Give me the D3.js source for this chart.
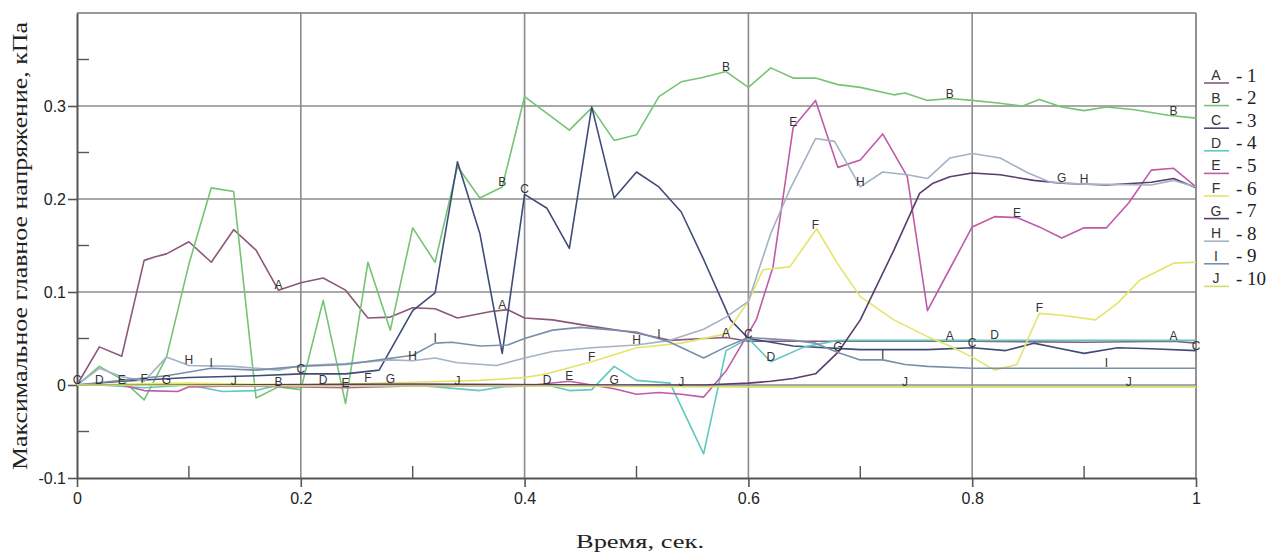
<!DOCTYPE html>
<html><head><meta charset="utf-8">
<script src="https://cdn.jsdelivr.net/npm/d3@7"></script>
<style>body{margin:0;background:#fff;} svg{display:block;}</style>
</head><body><svg id="c" width="1288" height="556"></svg>
<script>
// ---- data ----
const xTicks = [0, 0.2, 0.4, 0.6, 0.8, 1];
const xTickLabels = ["0", "0.2", "0.4", "0.6", "0.8", "1"];
const yTicks = [-0.1, 0, 0.1, 0.2, 0.3];
const yTickLabels = ["-0.1", "0", "0.1", "0.2", "0.3"];
const xMinor = [0.1, 0.3, 0.5, 0.7, 0.9];
const yMinor = [-0.05, 0.05, 0.15, 0.25, 0.35];
const seriesLetters = ["A","B","C","D","E","F","G","H","I","J"];
const seriesNumbers = ["1","2","3","4","5","6","7","8","9","10"];
const seriesColors = ["#8a5878","#74c474","#404c78","#60c8c0","#c05aa6","#e4e46a","#5a3c6c","#a4b2c6","#7a90aa","#d4dc6a"];
const xTitle = "Время, сек.";
const yTitle = "Максимальное главное напряжение, кПа";

const seriesA = [[0,0],[0.02,0.041],[0.04,0.031],[0.06,0.134],[0.07,0.138],[0.08,0.141],[0.10,0.154],[0.12,0.132],[0.14,0.167],[0.16,0.145],[0.18,0.102],[0.20,0.11],[0.22,0.115],[0.24,0.102],[0.26,0.072],[0.28,0.073],[0.30,0.083],[0.32,0.082],[0.34,0.072],[0.37,0.079],[0.385,0.081],[0.40,0.072],[0.425,0.07],[0.46,0.063],[0.50,0.056],[0.53,0.048],[0.56,0.05],[0.58,0.051],[0.60,0.047],[0.70,0.047],[0.80,0.047],[0.90,0.046],[0.98,0.047],[1.0,0.045]];
const seriesB = [[0,0],[0.02,0.02],[0.04,0.006],[0.06,-0.016],[0.08,0.03],[0.10,0.13],[0.12,0.212],[0.14,0.208],[0.16,-0.014],[0.18,-0.002],[0.20,-0.005],[0.22,0.091],[0.24,-0.02],[0.26,0.132],[0.28,0.059],[0.30,0.169],[0.32,0.132],[0.34,0.235],[0.36,0.201],[0.38,0.213],[0.40,0.31],[0.44,0.274],[0.46,0.298],[0.48,0.263],[0.50,0.269],[0.52,0.31],[0.54,0.326],[0.56,0.331],[0.58,0.337],[0.60,0.32],[0.62,0.341],[0.64,0.33],[0.66,0.33],[0.68,0.323],[0.70,0.32],[0.73,0.312],[0.74,0.314],[0.76,0.306],[0.78,0.308],[0.80,0.306],[0.825,0.303],[0.845,0.30],[0.86,0.307],[0.88,0.299],[0.90,0.295],[0.92,0.299],[0.945,0.296],[0.975,0.29],[1.0,0.287]];
const seriesC = [[0,0],[0.04,0.004],[0.10,0.008],[0.16,0.01],[0.20,0.012],[0.24,0.012],[0.27,0.016],[0.30,0.08],[0.32,0.099],[0.34,0.24],[0.36,0.163],[0.38,0.034],[0.40,0.205],[0.42,0.19],[0.44,0.147],[0.46,0.299],[0.48,0.201],[0.50,0.229],[0.52,0.213],[0.54,0.186],[0.56,0.135],[0.584,0.07],[0.60,0.05],[0.64,0.042],[0.70,0.038],[0.76,0.038],[0.80,0.04],[0.83,0.037],[0.855,0.045],[0.875,0.04],[0.90,0.034],[0.93,0.04],[0.96,0.039],[1.0,0.037]];
const seriesD = [[0,0],[0.02,0.0],[0.06,-0.003],[0.10,0.0],[0.13,-0.007],[0.16,-0.006],[0.18,0.0],[0.22,0.0],[0.30,0.0],[0.36,-0.006],[0.38,-0.002],[0.42,0.0],[0.44,-0.006],[0.46,-0.005],[0.48,0.02],[0.50,0.005],[0.53,0.002],[0.56,-0.074],[0.58,0.037],[0.60,0.05],[0.62,0.025],[0.65,0.041],[0.68,0.048],[0.80,0.048],[1.0,0.048]];
const seriesE = [[0,0],[0.04,0.0],[0.06,-0.006],[0.09,-0.007],[0.10,-0.002],[0.14,-0.001],[0.24,-0.003],[0.30,-0.001],[0.40,-0.001],[0.44,0.004],[0.46,0.0],[0.48,-0.004],[0.50,-0.01],[0.52,-0.008],[0.54,-0.01],[0.56,-0.013],[0.58,0.015],[0.607,0.07],[0.622,0.127],[0.64,0.277],[0.66,0.306],[0.68,0.234],[0.70,0.242],[0.72,0.27],[0.742,0.224],[0.76,0.08],[0.78,0.125],[0.80,0.17],[0.82,0.181],[0.84,0.18],[0.86,0.17],[0.88,0.158],[0.90,0.169],[0.92,0.169],[0.94,0.196],[0.96,0.231],[0.98,0.233],[1.0,0.213]];
const seriesF = [[0,0],[0.10,0.002],[0.20,0.0],[0.30,0.003],[0.36,0.005],[0.40,0.008],[0.42,0.012],[0.46,0.025],[0.50,0.04],[0.54,0.045],[0.58,0.055],[0.60,0.09],[0.613,0.124],[0.637,0.127],[0.661,0.168],[0.68,0.13],[0.70,0.095],[0.73,0.07],[0.76,0.052],[0.78,0.042],[0.80,0.03],[0.82,0.016],[0.84,0.022],[0.85,0.05],[0.86,0.077],[0.88,0.075],[0.91,0.07],[0.93,0.088],[0.95,0.113],[0.98,0.131],[1.0,0.132]];
const seriesG = [[0,0],[0.10,0.0],[0.30,0.001],[0.48,0.0],[0.56,0.0],[0.60,0.002],[0.62,0.004],[0.64,0.007],[0.66,0.012],[0.68,0.035],[0.70,0.07],[0.73,0.145],[0.753,0.206],[0.765,0.217],[0.78,0.224],[0.80,0.228],[0.825,0.226],[0.855,0.22],[0.88,0.217],[0.92,0.215],[0.96,0.218],[0.98,0.222],[1.0,0.212]];
const seriesH = [[0,0],[0.02,0.018],[0.04,0.009],[0.06,0.004],[0.08,0.03],[0.10,0.021],[0.14,0.02],[0.18,0.016],[0.20,0.021],[0.24,0.023],[0.28,0.027],[0.30,0.026],[0.32,0.029],[0.34,0.024],[0.375,0.021],[0.40,0.029],[0.425,0.036],[0.46,0.04],[0.50,0.043],[0.53,0.048],[0.56,0.06],[0.58,0.073],[0.60,0.09],[0.62,0.163],[0.637,0.21],[0.66,0.265],[0.677,0.262],[0.70,0.213],[0.72,0.229],[0.742,0.226],[0.76,0.222],[0.78,0.244],[0.80,0.249],[0.825,0.244],[0.85,0.228],[0.87,0.218],[0.90,0.216],[0.96,0.215],[0.98,0.22],[1.0,0.213]];
const seriesI = [[0,0],[0.04,0.005],[0.08,0.01],[0.12,0.018],[0.16,0.016],[0.20,0.02],[0.24,0.022],[0.27,0.027],[0.30,0.032],[0.32,0.045],[0.335,0.046],[0.36,0.042],[0.385,0.043],[0.40,0.05],[0.425,0.059],[0.45,0.062],[0.50,0.057],[0.53,0.046],[0.56,0.029],[0.58,0.041],[0.60,0.051],[0.64,0.048],[0.66,0.045],[0.68,0.035],[0.70,0.027],[0.72,0.027],[0.74,0.022],[0.76,0.02],[0.80,0.018],[1.0,0.018]];
const seriesJ = [[0,0],[0.20,-0.001],[0.40,-0.001],[0.60,-0.002],[0.80,-0.002],[1.0,-0.002]];

const labelTimesA = [0.18, 0.38, 0.58, 0.78, 0.98];
const labelTimesB = [0.18, 0.38, 0.58, 0.78, 0.98];
const labelTimesC = [0.0, 0.2, 0.4, 0.6, 0.8, 1.0];
const labelTimesD = [0.02, 0.22, 0.42, 0.62, 0.82];
const labelTimesE = [0.04, 0.24, 0.44, 0.64, 0.84];
const labelTimesF = [0.06, 0.26, 0.46, 0.66, 0.86];
const labelTimesG = [0.08, 0.28, 0.48, 0.68, 0.88];
const labelTimesH = [0.10, 0.30, 0.50, 0.70, 0.90];
const labelTimesI = [0.12, 0.32, 0.52, 0.72, 0.92];
const labelTimesJ = [0.14, 0.34, 0.54, 0.74, 0.94];

const allSeries = [seriesA,seriesB,seriesC,seriesD,seriesE,seriesF,seriesG,seriesH,seriesI,seriesJ];
const allLabelTimes = [labelTimesA,labelTimesB,labelTimesC,labelTimesD,labelTimesE,labelTimesF,labelTimesG,labelTimesH,labelTimesI,labelTimesJ];

// ---- drawing ----
const svg = d3.select("#c");
const x = d3.scaleLinear().domain([0, 1]).range([77, 1196]);
const y = d3.scaleLinear().domain([-0.1, 0.4]).range([478, 13]);
const gridColor = "#8c8c8c", axisColor = "#555";
const sans = "'Liberation Sans Narrow','Liberation Sans',Arial,sans-serif";
const serif = "'Liberation Serif','Times New Roman',serif";

// gridlines
const g = svg.append("g");
g.selectAll("line.vg").data(xTicks.slice(1, -1)).enter().append("line")
  .attr("x1", d => x(d)).attr("x2", d => x(d)).attr("y1", y(0.4)).attr("y2", y(-0.1))
  .attr("stroke", gridColor).attr("stroke-width", 1.6);
g.selectAll("line.hg").data(yTicks.slice(1)).enter().append("line")
  .attr("x1", x(0)).attr("x2", x(1)).attr("y1", d => y(d)).attr("y2", d => y(d))
  .attr("stroke", gridColor).attr("stroke-width", 1.6);

// frame top/right
svg.append("line").attr("x1", x(0)).attr("x2", x(1)).attr("y1", y(0.4)).attr("y2", y(0.4)).attr("stroke", "#777").attr("stroke-width", 1.6);
svg.append("line").attr("x1", x(1)).attr("x2", x(1)).attr("y1", y(0.4)).attr("y2", y(-0.1)).attr("stroke", "#777").attr("stroke-width", 1.6);

// axes
const xAxis = d3.axisBottom(x).tickValues(xTicks).tickFormat((d, i) => xTickLabels[i]).tickSizeInner(9).tickSizeOuter(0).tickPadding(6);
const gx = svg.append("g").attr("transform", `translate(0,${y(-0.1)})`).call(xAxis);
const yAxis = d3.axisLeft(y).tickValues(yTicks).tickFormat((d, i) => yTickLabels[i]).tickSizeInner(9).tickSizeOuter(0).tickPadding(2);
const gy = svg.append("g").attr("transform", `translate(${x(0)},0)`).call(yAxis);
[gx, gy].forEach(a => {
  a.select(".domain").attr("stroke", axisColor).attr("stroke-width", 2);
  a.selectAll(".tick line").attr("stroke", axisColor).attr("stroke-width", 1.6);
  a.selectAll(".tick text").attr("font-family", sans).attr("font-size", 16).attr("fill", "#222");
});
// minor ticks (inward)
svg.append("g").selectAll("line").data(xMinor).enter().append("line")
  .attr("x1", d => x(d)).attr("x2", d => x(d)).attr("y1", y(-0.1)).attr("y2", y(-0.1) - 12)
  .attr("stroke", axisColor).attr("stroke-width", 1.4);
svg.append("g").selectAll("line").data(yMinor).enter().append("line")
  .attr("x1", x(0)).attr("x2", x(0) + 12).attr("y1", d => y(d)).attr("y2", d => y(d))
  .attr("stroke", axisColor).attr("stroke-width", 1.4);

// series lines
const line = d3.line().x(d => x(d[0])).y(d => y(d[1]));
const lines = svg.append("g");
allSeries.forEach((s, i) => {
  lines.append("path").datum(s).attr("d", line).attr("fill", "none")
    .attr("stroke", seriesColors[i]).attr("stroke-width", 1.6).attr("stroke-linejoin", "round");
});

// curve labels
function interp(s, t) {
  for (let k = 0; k < s.length - 1; k++) {
    if (t >= s[k][0] && t <= s[k + 1][0]) {
      const f = (t - s[k][0]) / (s[k + 1][0] - s[k][0]);
      return s[k][1] + f * (s[k + 1][1] - s[k][1]);
    }
  }
  return s[s.length - 1][1];
}
const labs = svg.append("g");
allSeries.forEach((s, i) => {
  allLabelTimes[i].forEach(t => {
    labs.append("text").attr("x", x(t)).attr("y", y(interp(s, t)) - 5)
      .attr("text-anchor", "middle").attr("dominant-baseline", "central")
      .attr("font-family", "'Liberation Sans',Arial,sans-serif").attr("font-size", 12)
      .attr("fill", "#333").text(seriesLetters[i]);
  });
});

// legend
const leg = svg.append("g");
seriesLetters.forEach((L, i) => {
  const ly = 75 + i * 22.6;
  leg.append("line").attr("x1", 1204).attr("x2", 1229).attr("y1", ly + 8).attr("y2", ly + 8)
    .attr("stroke", seriesColors[i]).attr("stroke-width", 1.6);
  leg.append("text").attr("x", 1216).attr("y", ly).attr("text-anchor", "middle").attr("dominant-baseline", "central")
    .attr("font-family", "'Liberation Sans',Arial,sans-serif").attr("font-size", 14).attr("fill", "#333").text(L);
  leg.append("text").attr("x", 1236).attr("y", ly).attr("dominant-baseline", "central")
    .attr("font-family", serif).attr("font-size", 19).attr("fill", "#222").text("- " + seriesNumbers[i]);
});

// titles
svg.append("text").attr("x", 640).attr("y", 542).attr("text-anchor", "middle").attr("dominant-baseline", "central")
  .attr("font-family", serif).attr("font-size", 18).attr("fill", "#222")
  .attr("textLength", 128).attr("lengthAdjust", "spacingAndGlyphs").text(xTitle);
svg.append("text").attr("transform", "translate(20,246) rotate(-90)").attr("text-anchor", "middle").attr("dominant-baseline", "central")
  .attr("font-family", serif).attr("font-size", 20).attr("fill", "#222")
  .attr("textLength", 448).attr("lengthAdjust", "spacingAndGlyphs").text(yTitle);
</script>
</body></html>
